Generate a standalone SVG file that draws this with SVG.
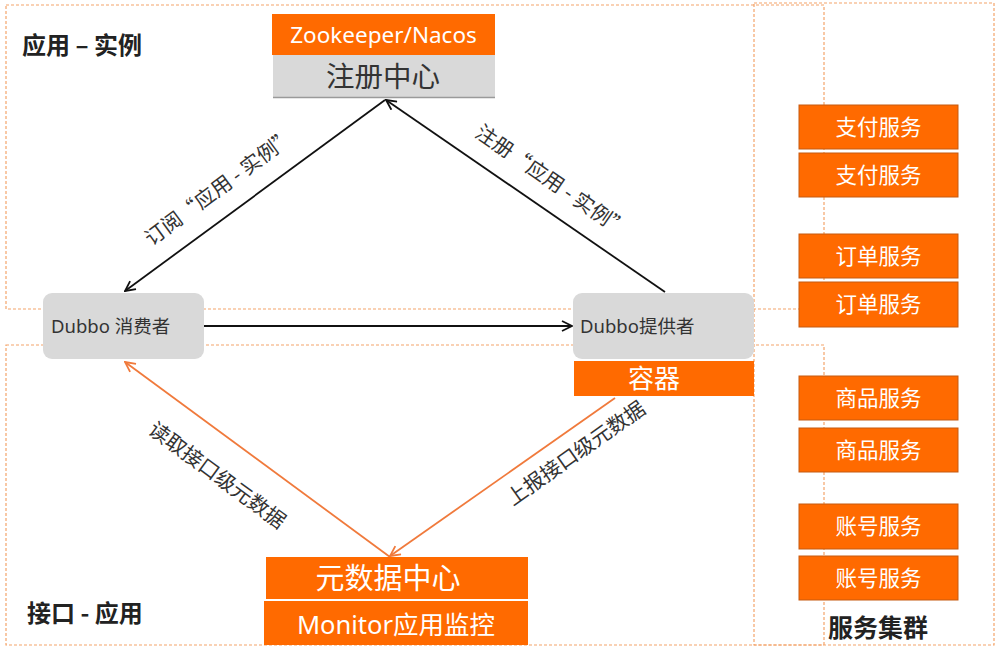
<svg xmlns="http://www.w3.org/2000/svg" width="1003" height="654" viewBox="0 0 1003 654">
<defs>
<style>
.region{fill:none;stroke:#F4A46A;stroke-width:1.2;stroke-dasharray:3 2}
.gray{fill:#D9D9D9}
.orange{fill:#FF6A00}
.svc{fill:#FF6A00;stroke:#C55A11;stroke-width:1}
.wt{fill:#FFFFFF;font-family:"Noto Sans","Noto Sans CJK SC",sans-serif;text-anchor:middle}
.dk{fill:#333333;font-family:"Noto Sans","Noto Sans CJK SC",sans-serif}
.bold{fill:#222222;font-family:"Noto Sans CJK SC",sans-serif;font-weight:bold}
.lbl{fill:#333333;font-family:"Noto Sans CJK SC",sans-serif;font-size:20.5px;text-anchor:middle}
.blk{stroke:#111111;stroke-width:1.8;fill:none}
.org{stroke:#F07A3C;stroke-width:1.8;fill:none}
</style>
<marker id="ab" viewBox="0 0 12 12" refX="11" refY="6" markerWidth="12" markerHeight="12" markerUnits="userSpaceOnUse" orient="auto">
<path d="M1,1 L11,6 L1,11" fill="none" stroke="#111111" stroke-width="1.8"/>
</marker>
<marker id="ao" viewBox="0 0 12 12" refX="11" refY="6" markerWidth="12" markerHeight="12" markerUnits="userSpaceOnUse" orient="auto">
<path d="M1,1 L11,6 L1,11" fill="none" stroke="#F07A3C" stroke-width="1.8"/>
</marker>
</defs>
<rect width="1003" height="654" fill="#FFFFFF"/>

<g id="regions">
<rect class="region" x="6" y="5" width="818" height="304"/>
<rect class="region" x="6" y="345" width="818" height="300"/>
<rect class="region" x="754" y="3" width="240" height="642"/>
<text class="bold" x="22" y="54" font-size="24">应用 – 实例</text>
<text class="bold" x="27" y="622" font-size="24">接口 - 应用</text>
<text class="bold" x="828" y="637" font-size="25">服务集群</text>
</g>

<g id="connectors">
<line class="blk" x1="385" y1="100" x2="125" y2="291" marker-end="url(#ab)"/>
<line class="blk" x1="665" y1="292" x2="386" y2="100" marker-end="url(#ab)"/>
<line class="blk" x1="204" y1="326" x2="572" y2="326" marker-end="url(#ab)"/>
<line class="org" x1="390" y1="557" x2="125" y2="362" marker-end="url(#ao)"/>
<line class="org" x1="615" y1="398" x2="390" y2="556" marker-end="url(#ao)"/>
<text class="lbl" transform="translate(224,193) rotate(-36.4)">订阅“应用 - 实例”</text>
<text class="lbl" transform="translate(548,187) rotate(34.6)">注册“应用 - 实例”</text>
<text class="lbl" transform="translate(213,481) rotate(36.3)">读取接口级元数据</text>
<text class="lbl" transform="translate(580,459) rotate(-35.1)">上报接口级元数据</text>
</g>

<g id="registry">
<rect class="orange" x="272" y="14" width="223" height="41"/>
<text class="wt" x="383.5" y="43" font-size="22.5">Zookeeper/Nacos</text>
<rect class="gray" x="273" y="55" width="222" height="42"/>
<line x1="273" y1="97.5" x2="495" y2="97.5" stroke="#9A9A9A" stroke-width="1.5"/>
<text class="dk" x="383" y="87" font-size="28.5" text-anchor="middle">注册中心</text>
</g>

<g id="consumer">
<rect class="gray" x="43" y="293" width="161" height="66" rx="9"/>
<text class="dk" x="51" y="333" font-size="18.5">Dubbo 消费者</text>
</g>

<g id="provider">
<rect class="gray" x="573" y="293" width="181" height="66" rx="9"/>
<text class="dk" x="580" y="333" font-size="18.5">Dubbo提供者</text>
<rect class="orange" x="574" y="361" width="180" height="35"/>
<text class="wt" x="654" y="388" font-size="26">容器</text>
</g>

<g id="metadata">
<rect class="orange" x="266" y="557" width="262" height="42"/>
<text class="wt" x="388" y="589" font-size="29">元数据中心</text>
<rect class="orange" x="264" y="601" width="264" height="44"/>
<text class="wt" x="396" y="634" font-size="25.5">Monitor应用监控</text>
</g>

<g id="services">
<rect class="svc" x="799" y="105" width="159" height="44"/>
<text class="wt" x="878.5" y="135" font-size="21.5">支付服务</text>
<rect class="svc" x="799" y="153" width="159" height="44"/>
<text class="wt" x="878.5" y="183" font-size="21.5">支付服务</text>
<rect class="svc" x="799" y="234" width="159" height="44"/>
<text class="wt" x="878.5" y="264" font-size="21.5">订单服务</text>
<rect class="svc" x="799" y="282" width="159" height="45"/>
<text class="wt" x="878.5" y="312" font-size="21.5">订单服务</text>
<rect class="svc" x="799" y="376" width="159" height="44"/>
<text class="wt" x="878.5" y="406" font-size="21.5">商品服务</text>
<rect class="svc" x="799" y="428" width="159" height="44"/>
<text class="wt" x="878.5" y="458" font-size="21.5">商品服务</text>
<rect class="svc" x="799" y="504" width="159" height="45"/>
<text class="wt" x="878.5" y="534" font-size="21.5">账号服务</text>
<rect class="svc" x="799" y="556" width="159" height="44"/>
<text class="wt" x="878.5" y="586" font-size="21.5">账号服务</text>
</g>
</svg>
